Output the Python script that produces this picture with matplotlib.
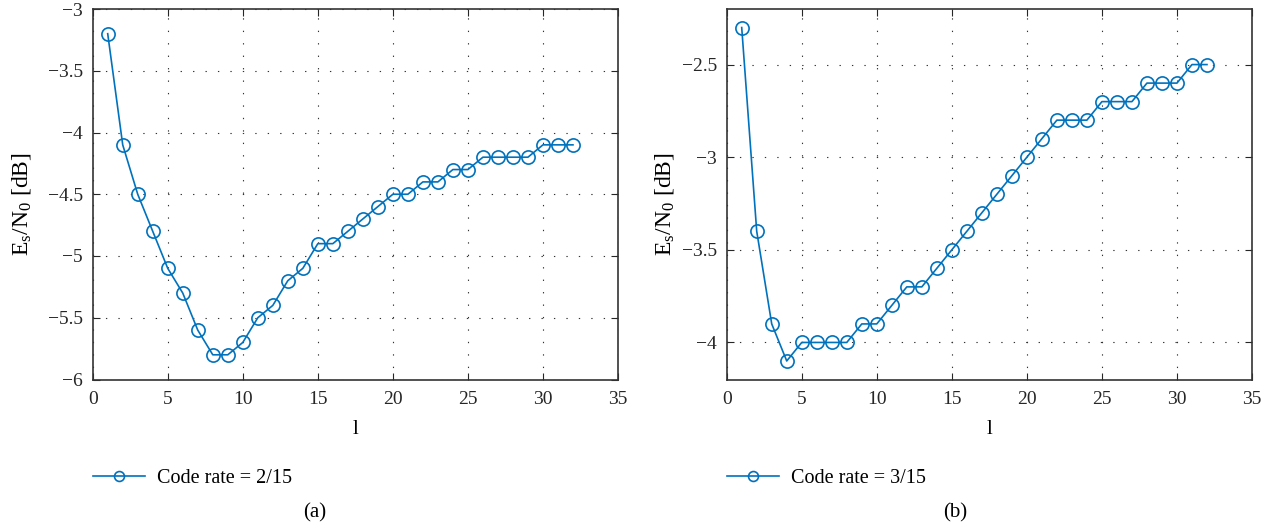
import matplotlib
matplotlib.use("Agg")
import matplotlib.pyplot as plt

plt.rcParams['font.family'] = ['Liberation Serif', 'DejaVu Serif']
plt.rcParams['mathtext.fontset'] = 'custom'
plt.rcParams['mathtext.rm'] = 'Liberation Serif'
plt.rcParams['mathtext.it'] = 'Liberation Serif:italic'
plt.rcParams['axes.unicode_minus'] = True

l_values = list(range(1, 33))
es_n0_rate_2_15 = [-3.2, -4.1, -4.5, -4.8, -5.1, -5.3, -5.6, -5.8, -5.8, -5.7,
                   -5.5, -5.4, -5.2, -5.1, -4.9, -4.9, -4.8, -4.7, -4.6, -4.5,
                   -4.5, -4.4, -4.4, -4.3, -4.3, -4.2, -4.2, -4.2, -4.2, -4.1,
                   -4.1, -4.1]
es_n0_rate_3_15 = [-2.3, -3.4, -3.9, -4.1, -4.0, -4.0, -4.0, -4.0, -3.9, -3.9,
                   -3.8, -3.7, -3.7, -3.6, -3.5, -3.4, -3.3, -3.2, -3.1, -3.0,
                   -2.9, -2.8, -2.8, -2.8, -2.7, -2.7, -2.7, -2.6, -2.6, -2.6,
                   -2.5, -2.5]
labels = ['Code rate = 2/15', 'Code rate = 3/15']
captions = ['(a)', '(b)']
x_ticks = [0, 5, 10, 15, 20, 25, 30, 35]
y_ticks_a = [-6, -5.5, -5, -4.5, -4, -3.5, -3]
y_ticks_b = [-4, -3.5, -3, -2.5]

W, H = 1276, 527
fig = plt.figure(figsize=(W / 100, H / 100), dpi=100)
color = '#0072BD'

panels = [
    dict(left=92.7, right=618, data=es_n0_rate_2_15, ylim=(-6, -3), yt=y_ticks_a,
         label=labels[0], cap=captions[0], capx=315, ylx=33),
    dict(left=726.7, right=1252, data=es_n0_rate_3_15, ylim=(-4.2, -2.2), yt=y_ticks_b,
         label=labels[1], cap=captions[1], capx=955, ylx=676),
]

top, bottom = 9, 379.5
for p in panels:
    aw = p['right'] - p['left']
    ah = bottom - top
    ax = fig.add_axes([p['left'] / W, 1 - bottom / H, aw / W, ah / H])
    ax.plot(l_values, p['data'], color=color, lw=1.2, marker='o', markersize=9.5,
            markerfacecolor='none', markeredgewidth=1.2, label=p['label'])
    ax.set_xlim(0, 35)
    ax.set_ylim(*p['ylim'])
    ax.set_xticks(x_ticks)
    ax.set_yticks(p['yt'])
    ax.set_yticklabels([('%g' % v).replace('-', '\u2212') for v in p['yt']])
    ax.grid(True, linestyle=(0, (1.2, 10)), linewidth=0.8, color='#333333')
    ax.tick_params(direction='in', top=True, right=True, labelsize=14,
                   length=5, width=0.8, colors='#262626')
    ax.tick_params(axis='x', pad=8)
    ax.tick_params(axis='y', pad=7)
    for s in ax.spines.values():
        s.set_linewidth(1.2)
        s.set_color('#333333')
    ax.set_xlabel('l', fontsize=15, labelpad=9)
    ax.set_ylabel(r'$\mathregular{E_s/N_0}$ [dB]', fontsize=17)
    ax.yaxis.set_label_coords((p['ylx'] - p['left']) / aw, 1 - (204 - top) / ah)
    ax.legend(loc='center left', bbox_to_anchor=(0.0, (bottom - 478) / ah),
              frameon=False, fontsize=14.5, handlelength=2.6, handletextpad=0.6,
              borderaxespad=0, borderpad=0, markerscale=0.75)
    fig.text(p['capx'] / W, 1 - 513 / H, p['cap'], ha='center', va='center', fontsize=15)

fig.savefig('out.png', dpi=100)
